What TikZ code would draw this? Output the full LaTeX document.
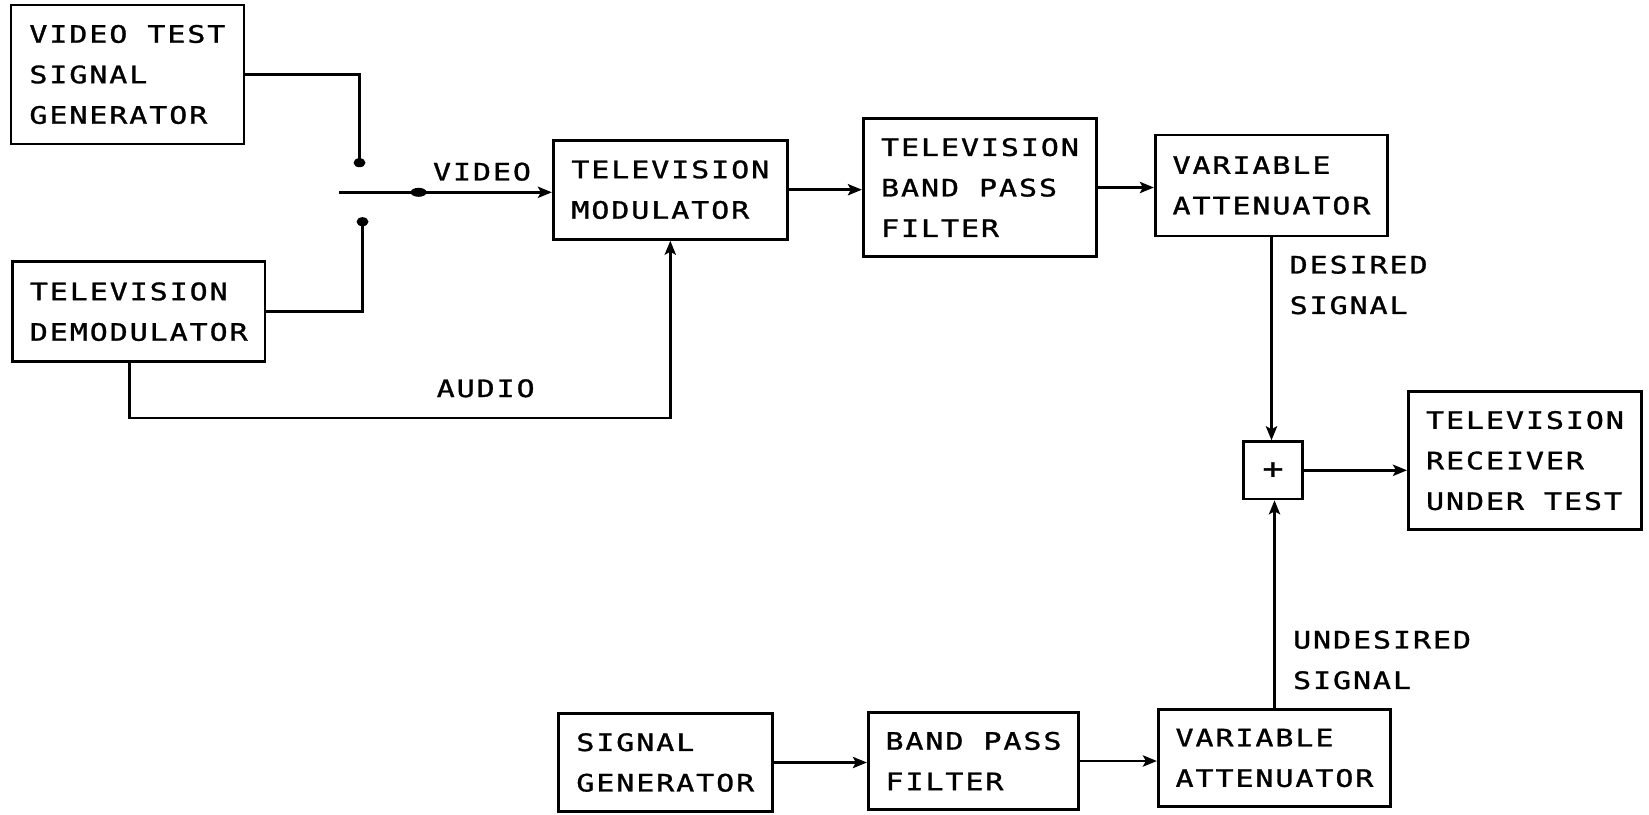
\documentclass[tikz,border=0pt]{standalone}
\usepackage{fontspec}
\newfontfamily\plotfont[FakeStretch=1.25,LetterSpace=8,FakeBold=1.2]{DejaVu Sans Mono}
\usetikzlibrary{arrows.meta,shapes.geometric}
\begin{document}
\begin{tikzpicture}[x=0.5pt,y=-0.5pt, line width=1.4pt,
  box/.style={draw, inner sep=0pt, align=left, font=\plotfont\fontsize{12}{20.25}\selectfont},
  lbl/.style={inner sep=0pt, align=left, font=\plotfont\fontsize{12}{20.25}\selectfont},
  arr/.style={-{Stealth[length=7pt,width=5.6pt,inset=1.5pt]}},
  dot/.style={ellipse, fill, draw=none, inner sep=0pt, minimum width=6pt, minimum height=4.5pt}]
\useasboundingbox (0,0) rectangle (1649,814);

\node[box, minimum width=116.5pt, minimum height=69.5pt] (vtsg) at (127.4,74.5) {VIDEO TEST\\SIGNAL\\GENERATOR};
\node[box, minimum width=126.2pt, minimum height=50pt] (demod) at (138.8,311.7) {TELEVISION\\DEMODULATOR};
\node[box, minimum width=117pt, minimum height=49.6pt] (mod) at (670.3,189.7) {TELEVISION\\MODULATOR};
\node[box, minimum width=116.7pt, minimum height=69.2pt] (tvbpf) at (980,187.5) {TELEVISION\\BAND PASS\\FILTER};
\node[box, minimum width=116.2pt, minimum height=50.5pt] (va1) at (1271.5,185.5) {VARIABLE\\ATTENUATOR};
\node[box, minimum width=29.7pt, minimum height=28.6pt, font=\plotfont\fontsize{14}{16}\selectfont] (plus) at (1273,470.3) {+};
\node[box, minimum width=116.6pt, minimum height=69pt] (rx) at (1525,460.6) {TELEVISION\\RECEIVER\\UNDER TEST};
\node[box, minimum width=107pt, minimum height=49.2pt] (sg) at (665.3,762.5) {SIGNAL\\GENERATOR};
\node[box, minimum width=105.2pt, minimum height=48.8pt] (bpf) at (973.5,761) {BAND PASS\\FILTER};
\node[box, minimum width=116.2pt, minimum height=48.7pt] (va2) at (1274.5,758) {VARIABLE\\ATTENUATOR};

\node[dot] (dA) at (359.5,162.7) {};
\node[dot] (dB) at (362.5,221.7) {};
\node[dot, minimum width=8pt] (dS) at (418.6,192.3) {};
\coordinate (swL) at (339,192.3);
\coordinate (aud) at (129.3,418);

\draw (vtsg.east) -| (dA.center);
\draw (dB.center) |- (demod.east);
\draw (swL) -- (dS.center);
\draw[arr] (dS.center) -- (dS.center -| mod.west);
\draw[arr] (aud |- demod.south) -- (aud) -| (mod.south);
\draw[arr] (mod.east) -- (mod.east -| tvbpf.west);
\draw[arr] (tvbpf.east) -- (tvbpf.east -| va1.west);
\draw[arr] (va1.south) -- (va1.south |- plus.north);
\draw[arr] (plus.east) -- (plus.east -| rx.west);
\draw[arr] (va2.north) -- (va2.north |- plus.south);
\draw[arr] (sg.east) -- (sg.east -| bpf.west);
\draw[arr] (bpf.east) -- (bpf.east -| va2.west);

\node[lbl] (lvideo) at (482,171.7) {VIDEO};
\node[lbl] (laudio) at (485.7,388.3) {AUDIO};
\node[lbl, anchor=west] (ldes) at (1288.3,285) {DESIRED\\SIGNAL};
\node[lbl, anchor=west] (lund) at (1291.7,660) {UNDESIRED\\SIGNAL};
\end{tikzpicture}
\end{document}
